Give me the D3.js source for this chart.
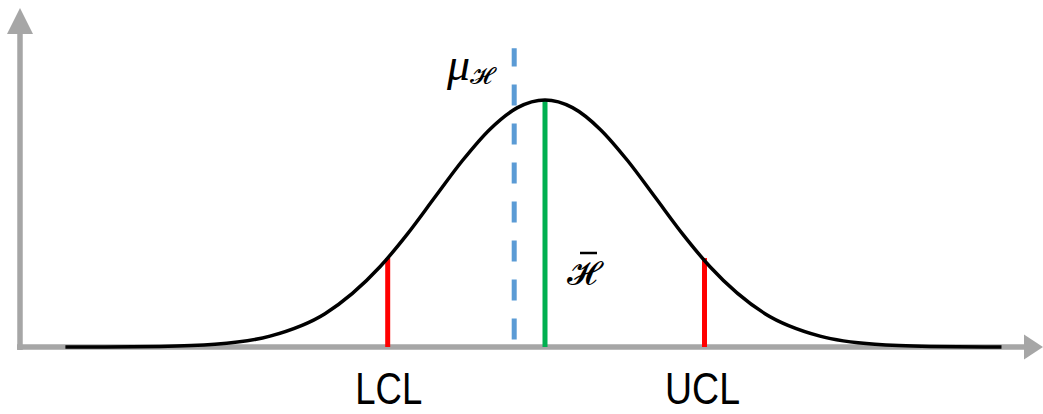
<!DOCTYPE html>
<html><head><meta charset="utf-8">
<script src="https://cdn.jsdelivr.net/npm/d3@7"></script>
<style>html,body{margin:0;padding:0;background:#fff;}svg{display:block;}</style>
</head><body>
<script>
// Curve points (x in sigma units from the mean, y relative height)
const curveX = [-4.36,-4,-3.5,-3,-2.5,-2,-1.5,-1.25,-1,-0.75,-0.5,-0.25,0,0.25,0.5,0.75,1,1.25,1.5,2,2.5,3,3.5,4,4.15];
const curveY = [0,0.0003,0.0022,0.011,0.044,0.135,0.325,0.458,0.607,0.755,0.882,0.969,1,0.969,0.882,0.755,0.607,0.458,0.325,0.135,0.044,0.011,0.0022,0.0003,0];
// Control limits and markers
const limitLabels = ["LCL","UCL"];
const limitX = [-1.43, 1.45];
const limitY = [0.36, 0.36];
const meanX = 0;      // x-bar (green)
const meanY = 1;
const muX = -0.28;    // mu (dashed blue)
const muY = [0.03, 1.21];

const W = 1043, H = 414;
const svg = d3.select("body").append("svg").attr("width", W).attr("height", H);
const x = d3.scaleLinear().domain([-4.5, 4.5]).range([50, 1040]);
const y = d3.scaleLinear().domain([0, 1]).range([347, 100]);
const axisColor = "#a6a6a6";

// axes
svg.append("line").attr("x1", 20).attr("x2", 20).attr("y1", y(0) + 3).attr("y2", 30)
  .attr("stroke", axisColor).attr("stroke-width", 5.5);
svg.append("path").attr("d", "M20,8 L33,34 L7,34 Z").attr("fill", axisColor);
svg.append("line").attr("x1", 17).attr("x2", 1026).attr("y1", y(0)).attr("y2", y(0))
  .attr("stroke", axisColor).attr("stroke-width", 5.5);
svg.append("path").attr("d", `M1043,${y(0)} L1024,${y(0)-12.5} L1024,${y(0)+12.5} Z`).attr("fill", axisColor);

// mu dashed line
svg.append("line").attr("x1", x(muX)).attr("x2", x(muX)).attr("y1", y(muY[0])).attr("y2", y(muY[1]))
  .attr("stroke", "#5b9bd5").attr("stroke-width", 5).attr("stroke-dasharray", "21,18").attr("stroke-dashoffset", 0);

// green mean line
svg.append("line").attr("x1", x(meanX)).attr("x2", x(meanX)).attr("y1", y(0)).attr("y2", y(meanY))
  .attr("stroke", "#00b050").attr("stroke-width", 5);

// red limits
limitX.forEach((lx, i) => {
  svg.append("line").attr("x1", x(lx)).attr("x2", x(lx)).attr("y1", y(0)).attr("y2", y(limitY[i]))
    .attr("stroke", "#ff0000").attr("stroke-width", 5);
});

// curve
const pts = curveX.map((d, i) => [d, curveY[i]]);
svg.append("path").datum(pts)
  .attr("d", d3.line().x(d => x(d[0])).y(d => y(d[1])).curve(d3.curveMonotoneX))
  .attr("fill", "none").attr("stroke", "#000").attr("stroke-width", 3.5);

// labels
limitLabels.forEach((t, i) => {
  svg.append("text").attr("x", x(limitX[i]) + (i === 0 ? 1 : -2)).attr("y", 404)
    .attr("text-anchor", "middle").attr("font-family", "Liberation Sans, Arial, sans-serif")
    .attr("font-size", 44).attr("textLength", i === 0 ? 67 : 75).attr("lengthAdjust", "spacingAndGlyphs")
    .text(t);
});

// mu label
const mu = svg.append("text").attr("x", 447).attr("y", 80)
  .attr("font-family", "Liberation Serif, DejaVu Serif, serif").attr("font-style", "italic").attr("font-size", 46);
mu.append("tspan").text("μ");
mu.append("tspan").attr("font-family", "DejaVu Sans, sans-serif").attr("font-style", "normal")
  .attr("font-size", 24).attr("dy", 4).text("𝓗");

// H bar label
svg.append("text").attr("x", 567).attr("y", 284)
  .attr("font-family", "DejaVu Sans, sans-serif").attr("font-size", 33)
  .text("𝓗");
svg.append("line").attr("x1", 580).attr("x2", 597).attr("y1", 253).attr("y2", 253)
  .attr("stroke", "#000").attr("stroke-width", 2.5);
</script>
</body></html>
